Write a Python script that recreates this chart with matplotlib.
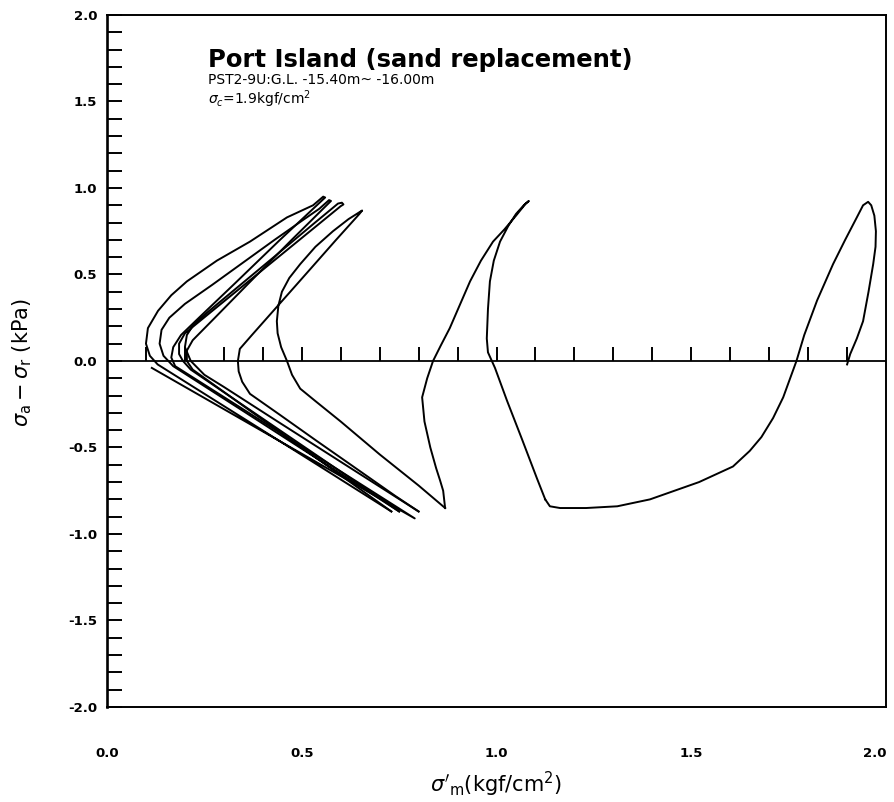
import numpy as np
import matplotlib
matplotlib.use("Agg")
import matplotlib.pyplot as plt
from matplotlib.ticker import MultipleLocator

plt.rcParams['font.family'] = ['DejaVu Sans']
plt.rcParams['mathtext.fontset'] = 'dejavusans'

# effective mean stress p' (kgf/cm2) and deviator stress q for each load cycle
cycle1_p = [1.900, 1.908, 1.925, 1.941, 1.955, 1.967, 1.973, 1.974, 1.970, 1.962, 1.954,
            1.941, 1.925, 1.895, 1.864, 1.823, 1.790, 1.770, 1.736, 1.710, 1.680, 1.650,
            1.607, 1.520, 1.394, 1.310, 1.230, 1.163, 1.137, 1.125]
cycle1_q = [-0.02, 0.04, 0.13, 0.23, 0.40, 0.56, 0.66, 0.75, 0.84, 0.90, 0.92,
            0.90, 0.83, 0.70, 0.56, 0.35, 0.15, 0.00, -0.21, -0.33, -0.44, -0.52,
            -0.61, -0.70, -0.80, -0.84, -0.85, -0.85, -0.84, -0.80]

cycle2_p = [1.125, 1.104, 1.065, 1.027, 0.996, 0.978, 0.975, 0.978, 0.983, 0.993, 1.009,
            1.030, 1.050, 1.070, 1.083, 1.075, 1.050, 1.020, 0.991, 0.960, 0.932, 0.905,
            0.880, 0.857, 0.837, 0.822, 0.809, 0.815, 0.830, 0.845, 0.855, 0.863, 0.868]
cycle2_q = [-0.80, -0.68, -0.45, -0.23, -0.04, 0.05, 0.13, 0.30, 0.46, 0.58, 0.69,
            0.78, 0.85, 0.90, 0.925, 0.91, 0.84, 0.76, 0.69, 0.58, 0.46, 0.32,
            0.19, 0.09, 0.00, -0.10, -0.21, -0.35, -0.50, -0.62, -0.69, -0.75, -0.85]

cycle3_p = [0.868, 0.800, 0.700, 0.600, 0.534, 0.496, 0.475, 0.462, 0.447, 0.438, 0.436,
            0.440, 0.449, 0.468, 0.496, 0.535, 0.580, 0.620, 0.655, 0.648, 0.624, 0.588,
            0.541, 0.490, 0.431, 0.372, 0.341, 0.336, 0.338, 0.347, 0.367, 0.443, 0.537,
            0.626, 0.683, 0.740, 0.800]
cycle3_q = [-0.85, -0.72, -0.54, -0.35, -0.23, -0.16, -0.08, 0.00, 0.08, 0.16, 0.23,
            0.32, 0.40, 0.48, 0.56, 0.66, 0.75, 0.82, 0.87, 0.85, 0.79, 0.70,
            0.58, 0.45, 0.30, 0.15, 0.07, 0.00, -0.06, -0.12, -0.19, -0.31, -0.46,
            -0.60, -0.69, -0.78, -0.87]

cycle4_p = [0.800, 0.612, 0.438, 0.300, 0.250, 0.215, 0.200, 0.205, 0.225, 0.321, 0.428,
            0.534, 0.577, 0.593, 0.603, 0.607, 0.600, 0.494, 0.385, 0.276, 0.200, 0.185,
            0.185, 0.195, 0.215, 0.378, 0.574, 0.750]
cycle4_q = [-0.87, -0.60, -0.35, -0.15, -0.08, 0.00, 0.08, 0.15, 0.22, 0.40, 0.60,
            0.80, 0.88, 0.91, 0.915, 0.905, 0.895, 0.70, 0.50, 0.30, 0.16, 0.10,
            0.04, 0.00, -0.05, -0.30, -0.60, -0.87]

cycle5_p = [0.750, 0.564, 0.357, 0.170, 0.145, 0.135, 0.140, 0.160, 0.200, 0.270, 0.350,
            0.430, 0.500, 0.545, 0.570, 0.575, 0.474, 0.364, 0.277, 0.220, 0.205, 0.205,
            0.220, 0.375, 0.562, 0.730]
cycle5_q = [-0.87, -0.60, -0.30, -0.03, 0.03, 0.10, 0.18, 0.25, 0.33, 0.44, 0.57,
            0.70, 0.81, 0.88, 0.93, 0.925, 0.70, 0.45, 0.25, 0.12, 0.06, 0.00,
            -0.05, -0.30, -0.60, -0.87]

cycle6_p = [0.730, 0.540, 0.328, 0.130, 0.110, 0.100, 0.105, 0.131, 0.165, 0.205, 0.282,
            0.367, 0.462, 0.529, 0.555, 0.560, 0.444, 0.329, 0.236, 0.190, 0.170, 0.165,
            0.175, 0.364, 0.573, 0.790, 0.115]
cycle6_q = [-0.87, -0.60, -0.30, -0.02, 0.03, 0.10, 0.19, 0.29, 0.38, 0.46, 0.58,
            0.69, 0.83, 0.90, 0.95, 0.945, 0.70, 0.45, 0.25, 0.15, 0.08, 0.02,
            -0.03, -0.30, -0.60, -0.91, -0.04]

cycles = [(cycle1_p, cycle1_q), (cycle2_p, cycle2_q), (cycle3_p, cycle3_q),
          (cycle4_p, cycle4_q), (cycle5_p, cycle5_q), (cycle6_p, cycle6_q)]

y_ticks = np.arange(-2.0, 2.01, 0.5)
x_ticks = np.arange(0, 2.01, 0.5)

fig = plt.figure(figsize=(8.94, 8.02), dpi=100)
ax = fig.add_axes([0.1197, 0.1185, 0.8714, 0.8628])

for p, q in cycles:
    ax.plot(p, q, color='black', lw=1.4, solid_joinstyle='round')

ax.set_xlim(0, 2.0)
ax.set_ylim(-2.0, 2.0)

# zero line with small upward ticks every 0.1
ax.axhline(0, color='black', lw=1.3)
zero_ticks = np.arange(1, 20) / 10
ax.vlines(zero_ticks, 0, 0.08, color='black', lw=1.4)

for side in ['left', 'right', 'top', 'bottom']:
    ax.spines[side].set_linewidth(1.4)
ax.spines['left'].set_linewidth(1.9)

ax.yaxis.set_minor_locator(MultipleLocator(0.1))
ax.tick_params(axis='y', which='both', direction='in', length=11, width=1.4,
               pad=7, labelsize=9.5)
ax.set_yticks(y_ticks)
ax.set_yticklabels([f"{v:.1f}" for v in y_ticks], fontweight='bold')

ax.set_xticks(x_ticks)
xlabels = ax.set_xticklabels([f"{v:.1f}" for v in x_ticks], fontweight='bold')
xlabels[-1].set_ha('right')
ax.tick_params(axis='x', length=0, pad=29, labelsize=9.5)

fig.text(0.5547, 1 - 784 / 802, r"$\sigma'_{\mathrm{m}}$(kgf/cm$^{2}$)", fontsize=15,
         ha='center', va='center')
fig.text(22 / 894, 1 - 363 / 802, r"$\sigma_{\mathrm{a}}-\sigma_{\mathrm{r}}$ (kPa)",
         fontsize=15, rotation=90, ha='center', va='center')

ax.text(0.1297, 0.935, "Port Island (sand replacement)", transform=ax.transAxes,
        fontsize=17.5, fontweight='bold', va='center', ha='left')
ax.text(0.1297, 0.906, "PST2-9U:G.L. -15.40m~ -16.00m", transform=ax.transAxes,
        fontsize=10, va='center', ha='left')
ax.text(0.1297, 0.878, r"$\sigma_{c}$=1.9kgf/cm$^{2}$", transform=ax.transAxes,
        fontsize=10, va='center', ha='left')

fig.savefig("out.png", dpi=100)
